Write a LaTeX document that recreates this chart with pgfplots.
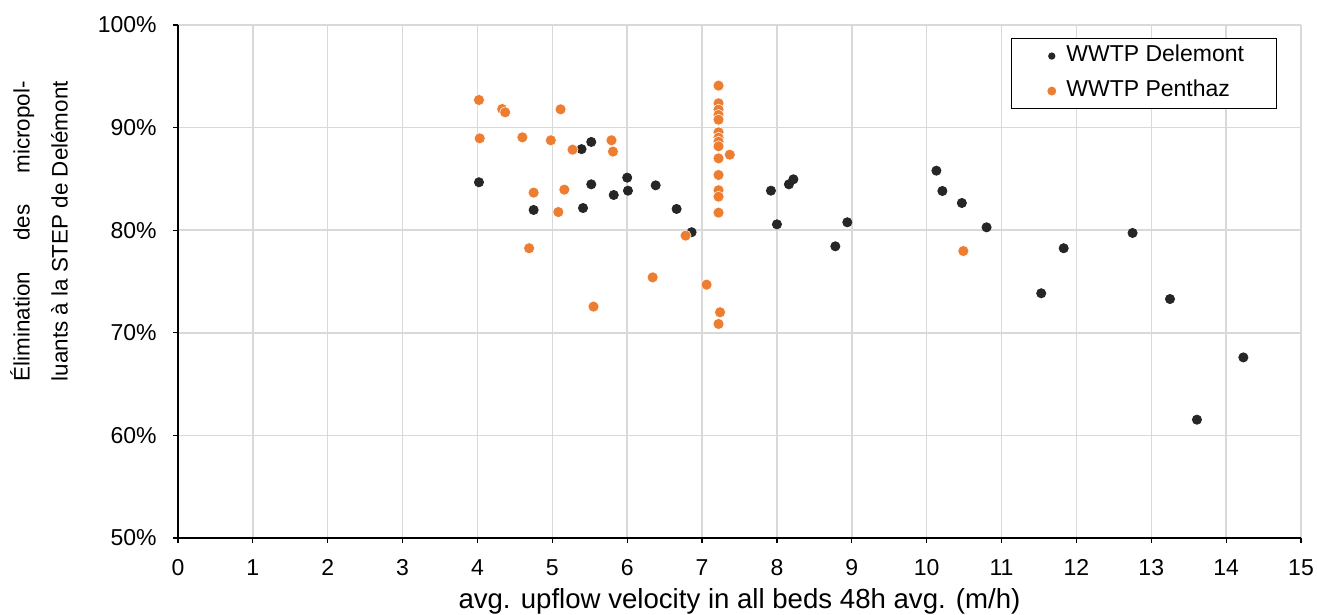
\documentclass[border=0pt]{standalone}
\usepackage{pgfplots}
\pgfplotsset{compat=1.18}
\usepackage{fontspec}
\setmainfont{Liberation Sans}
\definecolor{dgray}{HTML}{262626}
\definecolor{orng}{HTML}{ED7D31}
\definecolor{gridc}{HTML}{D9D9D9}
\pgfplotstableread{
x y
4.02 84.67
4.75 81.97
5.39 87.90
5.52 88.60
5.52 84.47
5.41 82.16
5.82 83.43
6.00 85.12
6.01 83.85
6.38 84.37
6.66 82.07
6.86 79.80
7.92 83.85
8.00 80.57
8.16 84.47
8.22 84.96
8.78 78.43
8.94 80.77
10.13 85.80
10.21 83.82
10.47 82.65
10.80 80.28
11.53 73.85
11.83 78.24
12.75 79.73
13.25 73.29
13.61 61.53
14.23 67.60
}\delemont
\pgfplotstableread{
x y
4.02 92.69
4.03 88.95
4.33 91.81
4.37 91.49
5.11 91.78
4.60 89.05
4.98 88.76
5.27 87.85
5.79 88.76
5.81 87.66
4.75 83.66
5.16 83.95
5.08 81.77
4.69 78.24
6.78 79.47
6.34 75.40
5.55 72.55
7.06 74.69
7.24 72.00
7.22 70.86
7.37 87.36
10.49 77.97
7.22 94.09
7.22 92.37
7.22 91.75
7.22 91.23
7.22 90.77
7.22 89.54
7.22 89.02
7.22 88.63
7.22 88.18
7.22 87.00
7.22 85.38
7.22 83.89
7.22 83.27
7.22 81.71
}\penthaz
\begin{document}
\begin{tikzpicture}
\begin{axis}[
  name=ax,
  scale only axis,
  width=561.5pt, height=256.5pt,
  xmin=0, xmax=15, ymin=50, ymax=100,
  xtick={0,1,...,15}, ytick={50,60,...,100},
  yticklabels={50\%,60\%,70\%,80\%,90\%,100\%},
  axis lines=left,
  axis line style={-, black, line width=0.6pt},
  grid=major,
  grid style={gridc, line width=0.75pt},
  tick align=outside,
  major tick length=2.5pt,
  tick style={black, line width=0.6pt},
  /pgf/number format/assume math mode=true,
  ticklabel style={font=\fontsize{11.5}{13}\selectfont, inner sep=0pt},
  xticklabel style={anchor=north},
  yticklabel style={anchor=east},
  xticklabel shift=8pt,
  yticklabel shift=8pt,
  xlabel={avg. upflow velocity in all beds 48h avg. (m/h)},
  xlabel style={at={(axis description cs:0.5,0)}, anchor=base, yshift=-35.5pt, inner sep=0pt, font=\fontsize{13.8}{16}\selectfont},
  ylabel={Élimination des micropol-\linebreak luants à la STEP de Delémont},
  ylabel style={at={(axis description cs:-0.1237,0.598)}, anchor=center, text width=150pt, align=justify, font=\fontsize{11.2}{19}\selectfont},
  legend style={at={(0.9786,0.9747)}, anchor=north east, draw=black, line width=0.6pt,
    font=\fontsize{11.5}{13}\selectfont, inner xsep=0pt, inner ysep=3.5pt,
    row sep=7pt, nodes={inner sep=0pt, text height=8pt, text depth=2.5pt}},
  legend cell align=left,
]
\addplot[only marks, mark=*, color=dgray, mark size=2.3pt,
  mark options={draw=dgray, fill=dgray},
  legend image code/.code={\path (0pt,0pt) (27pt,0pt); \fill (20pt,0pt) circle (1.5pt);}]
  table[x=x,y=y] {\delemont};
\addlegendentry{\makebox[105pt][l]{WWTP Delemont}}
\addplot[only marks, mark=*, color=orng, mark size=2.75pt,
  mark options={draw=white, line width=0.25pt, fill=orng},
  legend image code/.code={\path (0pt,0pt) (27pt,0pt); \fill (20pt,0pt) circle (1.9pt);}]
  table[x=x,y=y] {\penthaz};
\addlegendentry{\makebox[105pt][l]{WWTP Penthaz}}
\end{axis}
\pgfresetboundingbox
\path ([xshift=-89pt,yshift=-38.5pt]ax.south west) rectangle ([xshift=8pt,yshift=12.5pt]ax.north east);
\end{tikzpicture}
\end{document}
